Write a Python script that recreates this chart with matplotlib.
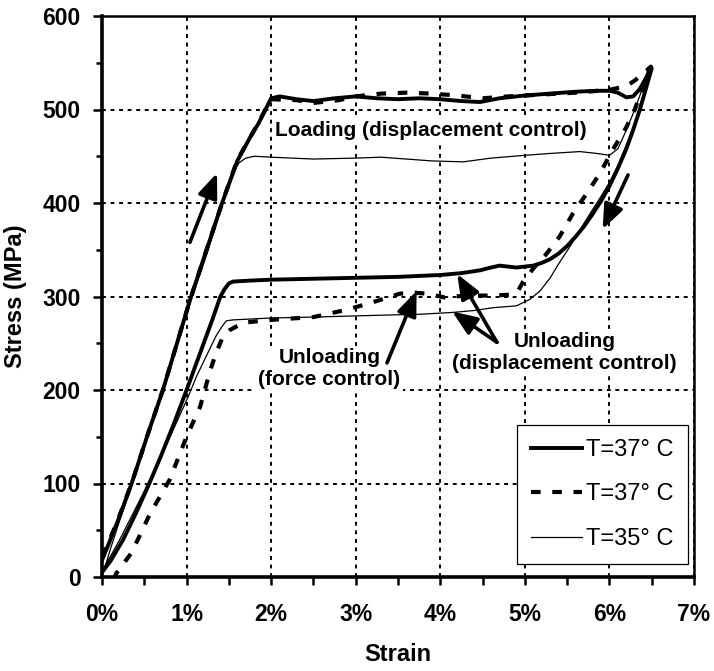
import matplotlib.pyplot as plt
from matplotlib.ticker import MultipleLocator, PercentFormatter

plt.rcParams["font.family"] = ["Liberation Sans", "DejaVu Sans"]

# Strain in %, stress in MPa; each series is one load/unload loop
disp37_strain = [0.00, 0.10, 0.20, 0.35, 0.55, 0.72, 0.88, 1.04, 1.20, 1.42, 1.60, 1.75, 1.85,
                 1.95, 2.00, 2.10, 2.30, 2.50, 2.75, 3.00, 3.25, 3.50, 3.75, 4.00, 4.25, 4.47,
                 4.70, 5.00, 5.30, 5.60, 5.85, 6.00, 6.10, 6.20, 6.28, 6.36, 6.44, 6.49,
                 6.50, 6.44, 6.36, 6.28, 6.20, 6.10, 6.00, 5.90, 5.80, 5.70, 5.60, 5.50, 5.40,
                 5.30, 5.20, 5.10, 5.00, 4.90, 4.80, 4.70, 4.60, 4.47, 4.25, 4.00, 3.50, 3.00,
                 2.50, 2.00, 1.75, 1.55, 1.50, 1.45, 1.40, 1.30, 1.15, 1.00, 0.85, 0.70, 0.55,
                 0.40, 0.25, 0.10, 0.00]
disp37_stress = [18, 40, 63, 100, 155, 200, 248, 296, 340, 400, 445, 470, 485,
                 503, 512, 514, 511, 509, 512, 514, 512, 511, 512, 511, 509, 508,
                 512, 515, 517, 519, 520, 520, 518, 513, 514, 522, 535, 546,
                 544, 525, 500, 478, 458, 437, 418, 402, 388, 375, 364, 354, 346,
                 340, 336, 333, 332, 331, 332, 333, 331, 328, 325, 323, 321, 320,
                 319, 318, 317, 316, 314, 308, 300, 274, 237, 200, 164, 130, 98,
                 68, 40, 17, 5]

force37_strain = [0.00, 0.10, 0.20, 0.35, 0.55, 0.72, 0.88, 1.04, 1.20, 1.42, 1.60, 1.75, 1.85,
                  1.95, 2.00, 2.30, 2.50, 2.80, 3.00, 3.30, 3.60, 3.90, 4.20, 4.50, 4.80, 5.20,
                  5.60, 6.00, 6.20, 6.30, 6.48,
                  6.40, 6.30, 6.20, 6.04, 5.89, 5.73, 5.57, 5.41, 5.25, 5.10, 4.98, 4.92, 4.85,
                  4.60, 4.30, 4.05, 3.85, 3.70, 3.52, 3.35, 3.17, 2.90, 2.50, 2.00, 1.67, 1.51,
                  1.43, 1.35, 1.28, 1.16, 1.00, 0.80, 0.57, 0.35, 0.17, 0.15]
force37_stress = [22, 42, 64, 100, 155, 200, 248, 296, 340, 400, 446, 470, 486,
                  503, 511, 510, 507, 510, 514, 517, 518, 517, 515, 512, 514, 516,
                  518, 521, 525, 531, 545,
                  525, 500, 481, 457, 432, 410, 389, 364, 345, 330, 316, 306, 302,
                  301, 301, 299, 303, 304, 303, 298, 293, 286, 278, 275, 272, 264,
                  257, 240, 221, 182, 150, 104, 68, 26, 4, 0]

t35_strain = [0.00, 0.05, 0.10, 0.20, 0.36, 0.56, 0.73, 0.89, 1.05, 1.22, 1.43, 1.55, 1.62,
              1.70, 1.80, 2.00, 2.50, 3.00, 3.30, 3.60, 3.90, 4.27, 4.60, 5.00, 5.30, 5.65,
              5.85, 6.00, 6.10, 6.20, 6.30, 6.40, 6.47,
              6.40, 6.30, 6.20, 6.10, 6.00, 5.90, 5.78, 5.65, 5.53, 5.40, 5.30, 5.18, 5.06,
              4.90, 4.62, 4.40, 4.15, 3.76, 3.30, 2.50, 2.00, 1.55, 1.47, 1.42, 1.35, 1.28,
              1.12, 1.02, 0.77, 0.49, 0.21, 0.05, 0.00]
t35_stress = [3, 15, 30, 58, 100, 155, 200, 248, 296, 340, 400, 432, 443,
              448, 450, 449, 447, 448, 449, 447, 445, 444, 448, 451, 453, 455,
              453, 451, 458, 478, 500, 525, 543,
              515, 485, 462, 440, 422, 407, 390, 371, 353, 335, 320, 306, 297,
              290, 288, 285, 283, 281, 280, 278, 277, 275, 274, 268, 258, 245,
              215, 193, 143, 90, 40, 14, 5]

labels = ["T=37° C", "T=37° C", "T=35° C"]

fig = plt.figure(figsize=(7.14, 6.71), dpi=100)
ax = fig.add_axes([102 / 714, 1 - 577 / 671, 592 / 714, 561 / 671])

ax.plot(disp37_strain, disp37_stress, color="black", lw=2.8, label=labels[0], zorder=4,
        solid_joinstyle="round")
ax.plot(force37_strain, force37_stress, color="black", lw=3.0, ls=(0, (2.3, 2.8)),
        label=labels[1], zorder=4)
ax.plot(t35_strain, t35_stress, color="black", lw=0.9, label=labels[2], zorder=4)

ax.set_xlim(0, 7)
ax.set_ylim(0, 600)
ax.xaxis.set_major_locator(MultipleLocator(1))
ax.xaxis.set_minor_locator(MultipleLocator(0.5))
ax.yaxis.set_major_locator(MultipleLocator(100))
ax.yaxis.set_minor_locator(MultipleLocator(50))
ax.xaxis.set_major_formatter(PercentFormatter(xmax=100, decimals=0))

ax.tick_params(axis="x", which="both", direction="out", length=6, width=1.8, pad=13)
ax.tick_params(axis="y", which="major", direction="out", length=6.5, width=1.8, pad=9)
ax.tick_params(axis="y", which="minor", direction="out", length=4.5, width=1.8)
for lab in ax.get_xticklabels() + ax.get_yticklabels():
    lab.set_fontsize(16.5)
    lab.set_fontweight("bold")

for side in ["left", "bottom"]:
    ax.spines[side].set_linewidth(2.6)
for side in ["top", "right"]:
    ax.spines[side].set_linewidth(1.8)

ax.grid(True, which="major", color="black", lw=1.4, ls=(0, (2.0, 2.4)), zorder=0)
ax.set_axisbelow(True)

ax.set_xlabel("Strain", fontsize=17, fontweight="bold", labelpad=12)
ax.set_ylabel("Stress (MPa)", fontsize=17, fontweight="bold", labelpad=11)

box = dict(facecolor="white", edgecolor="none", pad=1.5)
ax.text(3.89, 478, "Loading (displacement control)", ha="center", va="center",
        fontsize=15, fontweight="bold", bbox=box, zorder=2)
ax.text(2.69, 223, "Unloading\n(force control)", ha="center", va="center",
        fontsize=15, fontweight="bold", bbox=box, zorder=2, linespacing=1.15)
ax.text(5.47, 240, "Unloading\n(displacement control)", ha="center", va="center",
        fontsize=15, fontweight="bold", bbox=box, zorder=2, linespacing=1.15)

arrow = dict(arrowstyle="-|>,head_length=0.5,head_width=0.2", lw=2.6, color="black",
             mutation_scale=30, shrinkA=0, shrinkB=0)
ax.annotate("", xy=(1.36, 432), xytext=(1.04, 358), arrowprops=arrow, zorder=5)
ax.annotate("", xy=(5.92, 372), xytext=(6.22, 430), arrowprops=arrow, zorder=5)
ax.annotate("", xy=(3.72, 306), xytext=(3.37, 229), arrowprops=arrow, zorder=5)
ax.annotate("", xy=(4.20, 324), xytext=(4.67, 251), arrowprops=arrow, zorder=5)
ax.annotate("", xy=(4.14, 284), xytext=(4.67, 251), arrowprops=arrow, zorder=5)

leg = ax.legend(loc="lower right", bbox_to_anchor=(0.99, 0.023), fontsize=17,
                frameon=True, fancybox=False, edgecolor="black", framealpha=1,
                handlelength=2.15, handletextpad=0.2, labelspacing=0.95,
                borderpad=0.6, borderaxespad=0)
leg.get_frame().set_linewidth(0.9)
leg.set_zorder(6)

fig.savefig("out.png", dpi=100)
